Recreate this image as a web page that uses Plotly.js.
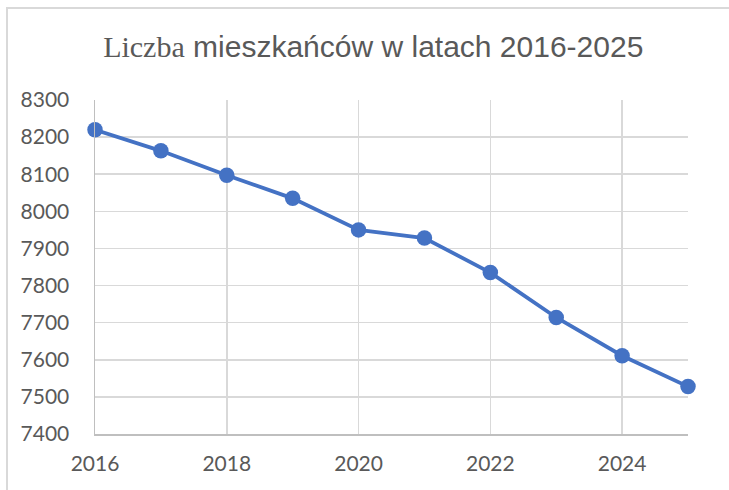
<!DOCTYPE html>
<html>
<head>
<meta charset="utf-8">
<script src="https://cdn.plot.ly/plotly-3.0.1.min.js"></script>
<style>
  html, body { margin: 0; padding: 0; background: #fff; }
  #wrap { position: relative; width: 729px; height: 490px; overflow: hidden; }
  #frame { position: absolute; left: 6px; top: 7px; width: 740px; height: 500px;
           border-top: 2px solid #d9d9d9; border-left: 2px solid #d9d9d9; box-sizing: border-box; pointer-events: none; }
  #chart { position: absolute; left: 0; top: 0; width: 729px; height: 490px; }
</style>
</head>
<body>
<div id="wrap">
  <div id="chart"></div>
  <div id="frame"></div>
</div>
<script>
const years = [2016, 2017, 2018, 2019, 2020, 2021, 2022, 2023, 2024, 2025];
const residents = [8220, 8163, 8097, 8035, 7950, 7928, 7835, 7714, 7611, 7528];
const xTickVals = [2016, 2018, 2020, 2022, 2024];
const yTickVals = [7400, 7500, 7600, 7700, 7800, 7900, 8000, 8100, 8200, 8300];
const titleText = '<span style="font-family:\'Liberation Serif\', serif;">Liczba</span> mieszkańców w latach 2016-2025';

const trace = {
  x: years,
  y: residents,
  type: 'scatter',
  mode: 'lines+markers',
  line: { color: '#4472C4', width: 3.8 },
  marker: { color: '#4472C4', size: 15.5 },
  cliponaxis: false,
  hoverinfo: 'x+y'
};

const layout = {
  width: 729,
  height: 490,
  margin: { l: 95, r: 41, t: 100, b: 56 },
  paper_bgcolor: '#ffffff',
  plot_bgcolor: '#ffffff',
  showlegend: false,
  title: {
    text: titleText,
    font: { family: '"Liberation Sans Narrow", "Liberation Sans", sans-serif', size: 30, color: '#595959' },
    x: 0.512,
    xanchor: 'center',
    y: 0.905,
    yanchor: 'middle'
  },
  xaxis: {
    range: [2016, 2025],
    tickvals: xTickVals,
    ticktext: xTickVals.map(String),
    showgrid: true,
    gridcolor: '#d9d9d9',
    gridwidth: 1.5,
    zeroline: false,
    showline: true,
    linecolor: '#bfbfbf',
    linewidth: 1.5,
    ticks: '',
    ticklabelstandoff: 10,
    tickfont: { family: 'Lato, sans-serif', size: 21, color: '#595959' }
  },
  yaxis: {
    range: [7400, 8300],
    tickvals: yTickVals,
    ticktext: yTickVals.map(String),
    showgrid: true,
    gridcolor: '#d9d9d9',
    gridwidth: 1.5,
    zeroline: false,
    showline: true,
    linecolor: '#bfbfbf',
    linewidth: 1.5,
    ticks: '',
    ticklabelstandoff: 20,
    tickfont: { family: 'Lato, sans-serif', size: 21, color: '#595959' }
  }
};

Plotly.newPlot('chart', [trace], layout, { displayModeBar: false, staticPlot: true });
</script>
</body>
</html>
